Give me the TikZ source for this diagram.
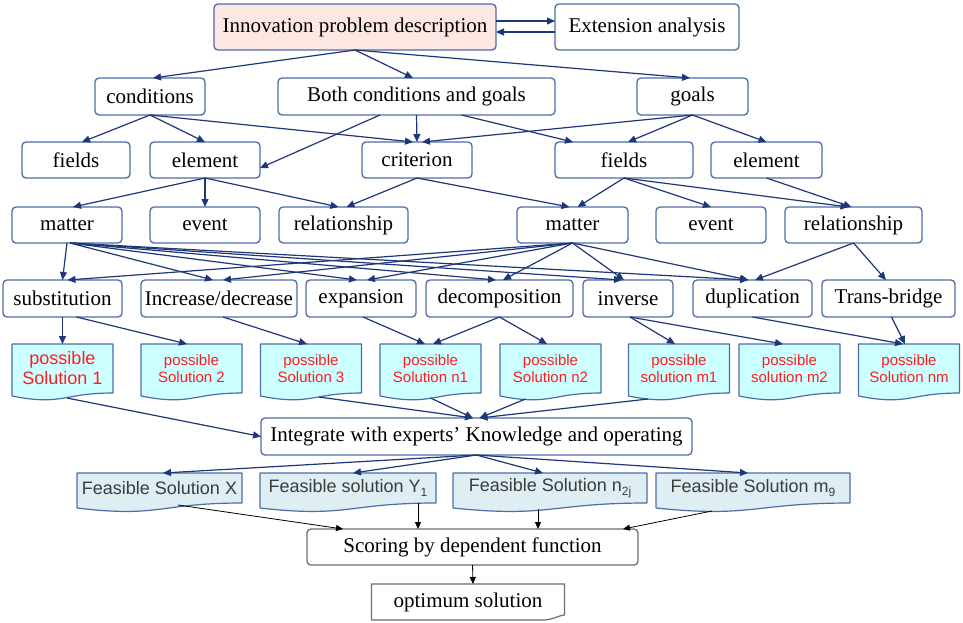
\documentclass[tikz,border=0pt]{standalone}
\usepackage{fontspec}
\setmainfont{Liberation Serif}
\setsansfont{Liberation Sans}
\usetikzlibrary{arrows.meta,backgrounds}
\definecolor{bordc}{RGB}{79,108,165}
\definecolor{arrc}{RGB}{30,55,120}
\definecolor{pinkf}{RGB}{253,231,226}
\definecolor{cyanf}{RGB}{204,255,255}
\definecolor{solred}{RGB}{255,30,30}
\definecolor{feasf}{RGB}{222,238,243}
\definecolor{feast}{RGB}{60,60,60}
\definecolor{grayb}{RGB}{110,110,110}
\newcommand\mydoc[5]{%
 \path[draw=#3,fill=#2,line width=1.2pt,line join=round] (#1.north west) -- (#1.north east) -- (#1.south east) .. controls (#1.south) and ([yshift=-#5pt]#1.south) .. ([yshift=-#4pt]#1.south west) -- cycle;}
\newcommand\sbs[1]{\raisebox{-4pt}{\fontsize{12}{12}\selectfont #1}}
\tikzset{
 box/.style={draw=bordc,line width=1.3pt,rounded corners=4pt,fill=white,inner sep=0pt,outer sep=0pt,font=\fontsize{21}{24}\selectfont,text=black},
 solnode/.style={inner sep=0pt,outer sep=0pt,minimum width=101pt,minimum height=49pt,align=center,text=solred,font=\sffamily\fontsize{15}{17}\selectfont},
 feasnode/.style={inner sep=0pt,outer sep=0pt,minimum height=30pt,text=feast,font=\sffamily\fontsize{18}{20}\selectfont},
 arr/.style={draw=arrc,line width=1.2pt,-{Triangle[length=8pt,width=7pt]}},
 blk/.style={draw=black,line width=0.8pt,-{Triangle[length=7pt,width=6pt]}}
}
\begin{document}
\begin{tikzpicture}[x=1pt,y=-1pt]
\useasboundingbox (0,0) rectangle (963,622);
% row 1
\node[box,fill=pinkf,minimum width=282pt,minimum height=46pt] (top) at (355,27) {Innovation problem description};
\node[box,minimum width=184pt,minimum height=46pt] (ext) at (647,27) {Extension analysis};
% row 2
\node[box,minimum width=110pt,minimum height=37pt] (cond) at (150,96.5) {conditions};
\node[box,minimum width=277pt,minimum height=37pt] (both) at (416.5,96.5) {Both conditions and goals};
\node[box,minimum width=111pt,minimum height=37pt] (goals) at (692.5,96.5) {goals};
% row 3
\node[box,minimum width=108pt,minimum height=36pt] (fields1) at (76,160) {fields};
\node[box,minimum width=110pt,minimum height=36pt] (elem1) at (205,160) {element};
\node[box,minimum width=110pt,minimum height=36pt] (crit) at (417,160) {criterion};
\node[box,minimum width=138pt,minimum height=36pt] (fields2) at (624,160) {fields};
\node[box,minimum width=111pt,minimum height=36pt] (elem2) at (766.5,160) {element};
% row 4
\node[box,minimum width=110pt,minimum height=36pt] (mat1) at (67,225) {matter};
\node[box,minimum width=110pt,minimum height=36pt] (ev1) at (205,225) {event};
\node[box,minimum width=129pt,minimum height=36pt] (rel1) at (343.5,225) {relationship};
\node[box,minimum width=111pt,minimum height=36pt] (mat2) at (572.5,225) {matter};
\node[box,minimum width=110pt,minimum height=36pt] (ev2) at (711,225) {event};
\node[box,minimum width=137pt,minimum height=36pt] (rel2) at (853.5,225) {relationship};
% row 5
\node[box,minimum width=119pt,minimum height=37pt] (subst) at (62.5,298.5) {substitution};
\node[box,minimum width=156pt,minimum height=37pt] (incdec) at (219,298.5) {Increase/decrease};
\node[box,minimum width=110pt,minimum height=37pt] (expan) at (361,298.5) {expansion};
\node[box,minimum width=147pt,minimum height=37pt] (decomp) at (499.5,298.5) {decomposition};
\node[box,minimum width=90pt,minimum height=37pt] (inv) at (628,298.5) {inverse};
\node[box,minimum width=119pt,minimum height=37pt] (dup) at (752.5,298.5) {duplication};
\node[box,minimum width=133pt,minimum height=37pt] (trans) at (888.5,298.5) {Trans-bridge};
% row 6 documents
\node[solnode,font=\sffamily\fontsize{18}{20}\selectfont] (sol1) at (62.5,368.5) {possible\\Solution 1};
\node[solnode] (sol2) at (191.5,368.5) {possible\\Solution 2};
\node[solnode] (sol3) at (311,368.5) {possible\\Solution 3};
\node[solnode] (n1) at (430.5,368.5) {possible\\Solution n1};
\node[solnode] (n2) at (550.5,368.5) {possible\\Solution n2};
\node[solnode] (m1) at (679,368.5) {possible\\solution m1};
\node[solnode] (m2) at (789.5,368.5) {possible\\solution m2};
\node[solnode] (nm) at (909,368.5) {possible\\Solution nm};
% row 7
\node[box,minimum width=431pt,minimum height=37pt] (integ) at (476.5,436.5) {Integrate with experts' Knowledge and operating};
% row 8
\node[feasnode,minimum width=165pt] (fx) at (159.5,488) {Feasible Solution X};
\node[feasnode,minimum width=176pt] (fy) at (348,488) {Feasible solution Y\sbs{1}};
\node[feasnode,minimum width=194pt] (fn) at (550,488) {Feasible Solution n\sbs{2j}};
\node[feasnode,minimum width=194pt] (fm) at (753,488) {Feasible Solution m\sbs{9}};
% row 9
\node[box,draw=grayb,minimum width=331pt,minimum height=36pt] (score) at (472.5,547) {Scoring by dependent function};
% row 10
\node[inner sep=0pt,outer sep=0pt,minimum width=193pt,minimum height=36pt,font=\fontsize{21}{24}\selectfont] (opt) at (468,602) {optimum solution};
% backgrounds for document shapes
\begin{scope}[on background layer]
\fill[white] (0,0) rectangle (963,622);
\foreach \d in {sol1,sol2,sol3,n1,n2,m1,m2,nm}{\mydoc{\d}{cyanf}{bordc}{3}{13}}
\foreach \d in {fx,fy,fn,fm}{\mydoc{\d}{feasf}{bordc}{5}{15}}
\path[draw=grayb,fill=white,line width=1.2pt,line join=round] (opt.north west) -- (opt.north east) -- ([yshift=5pt]opt.south east) .. controls ([xshift=-8pt,yshift=4pt]opt.south east) and ([xshift=-12pt]opt.south east) .. ([xshift=-22pt]opt.south east) -- (opt.south west) -- cycle;
\end{scope}
% arrows row 1
\draw[arr] ([yshift=6pt]top.east) -- ([yshift=6pt]ext.west);
\draw[arr] ([yshift=-5pt]ext.west) -- ([yshift=-5pt]top.east);
\draw[arr] (top.south) -- ([xshift=3pt]cond.north);
\draw[arr] (top.south) -- ([xshift=-3.5pt]both.north);
\draw[arr] (top.south) -- ([xshift=-2.5pt]goals.north);
% row 2 -> 3
\draw[arr] (cond.south) -- ([xshift=6pt]fields1.north);
\draw[arr] (cond.south) -- (elem1.north);
\draw[arr] (cond.south) -- ([xshift=-4pt]crit.north);
\draw[arr] ([xshift=-36.5pt]both.south) -- ([yshift=-8pt]elem1.east);
\draw[arr] (both.south) -- (crit.north);
\draw[arr] ([xshift=45pt]both.south) -- ([xshift=-51pt]fields2.north);
\draw[arr] (goals.south) -- ([xshift=5pt]crit.north);
\draw[arr] (goals.south) -- ([xshift=4pt]fields2.north);
\draw[arr] (goals.south) -- (elem2.north);
% row 3 -> 4
\draw[arr] (elem1.south) -- ([xshift=6pt]mat1.north);
\draw[arr] (elem1.south) -- (ev1.north);
\draw[arr] (elem1.south) -- ([xshift=-5pt]rel1.north);
\draw[arr] (crit.south) -- ([xshift=3pt]rel1.north);
\draw[arr] (crit.south) -- ([xshift=-3pt]mat2.north);
\draw[arr] (fields2.south) -- ([xshift=5pt]mat2.north);
\draw[arr] (fields2.south) -- (ev2.north);
\draw[arr] (fields2.south) -- ([xshift=-5pt]rel2.north);
\draw[arr] (elem2.south) -- ([xshift=-2pt]rel2.north);
% row 4 -> 5
\draw[arr] (mat1.south) -- (subst.north);
\draw[arr] ([xshift=3pt]mat1.south) -- ([xshift=-6pt]incdec.north);
\draw[arr] ([xshift=3pt]mat1.south) -- ([xshift=-4pt]expan.north);
\draw[arr] ([xshift=3pt]mat1.south) -- ([xshift=-3.5pt]decomp.north);
\draw[arr] ([xshift=3pt]mat1.south) -- ([xshift=-6pt]inv.north);
\draw[arr] ([xshift=3pt]mat1.south) -- ([xshift=-4.5pt]dup.north);
\draw[arr] (mat2.south) -- ([xshift=5pt]subst.north);
\draw[arr] (mat2.south) -- ([xshift=4pt]incdec.north);
\draw[arr] (mat2.south) -- ([xshift=6pt]expan.north);
\draw[arr] (mat2.south) -- ([xshift=3.5pt]decomp.north);
\draw[arr] (mat2.south) -- ([xshift=-4pt]inv.north);
\draw[arr] (mat2.south) -- ([xshift=-4pt]dup.north);
\draw[arr] (rel2.south) -- ([xshift=2.5pt]dup.north);
\draw[arr] (rel2.south) -- ([xshift=-2.5pt]trans.north);
% row 5 -> 6
\draw[arr] (subst.south) -- (sol1.north);
\draw[arr] ([xshift=14pt]subst.south) -- ([xshift=-4.5pt]sol2.north);
\draw[arr] ([xshift=4pt]incdec.south) -- ([xshift=-4pt]sol3.north);
\draw[arr] ([xshift=2pt]expan.south) -- ([xshift=-5.5pt]n1.north);
\draw[arr] (decomp.south) -- ([xshift=2.5pt]n1.north);
\draw[arr] (decomp.south) -- ([xshift=-3.5pt]n2.north);
\draw[arr] ([xshift=2pt]inv.south) -- ([xshift=-4pt]m1.north);
\draw[arr] ([xshift=2pt]inv.south) -- ([xshift=-6.5pt]m2.north);
\draw[arr] (dup.south) -- ([xshift=-6pt]nm.north);
\draw[arr] ([xshift=3pt]trans.south) -- ([xshift=-4pt]nm.north);
% row 6 -> 7
\draw[arr] ([xshift=4.5pt,yshift=-5pt]sol1.south) -- (integ.west);
\draw[arr] ([xshift=8pt,yshift=-4pt]sol3.south) -- ([xshift=-3.5pt]integ.north);
\draw[arr] ([yshift=-5pt]n1.south) -- ([xshift=-3.5pt]integ.north);
\draw[arr] ([xshift=-25pt,yshift=-6pt]n2.south) -- ([xshift=3pt]integ.north);
\draw[arr] ([xshift=-31pt,yshift=-6pt]m1.south) -- ([xshift=3pt]integ.north);
% row 7 -> 8
\draw[arr] (integ.south) -- ([xshift=3.5pt]fx.north);
\draw[arr] (integ.south) -- ([xshift=5pt]fy.north);
\draw[arr] (integ.south) -- ([xshift=-7pt]fn.north);
\draw[arr] (integ.south) -- ([xshift=-5pt]fm.north);
% row 8 -> 9
\draw[blk] ([xshift=18.5pt,yshift=-2pt]fx.south) -- ([xshift=-129.5pt]score.north);
\draw[blk] ([xshift=70pt]fy.south) -- ([xshift=-54.5pt]score.north);
\draw[blk] ([xshift=-12pt,yshift=-6pt]fn.south) -- ([xshift=65.5pt]score.north);
\draw[blk] ([xshift=-41pt,yshift=-8pt]fm.south) -- ([xshift=150.5pt]score.north);
% row 9 -> 10
\draw[blk] (score.south) -- ([xshift=5pt]opt.north);
\end{tikzpicture}
\end{document}
